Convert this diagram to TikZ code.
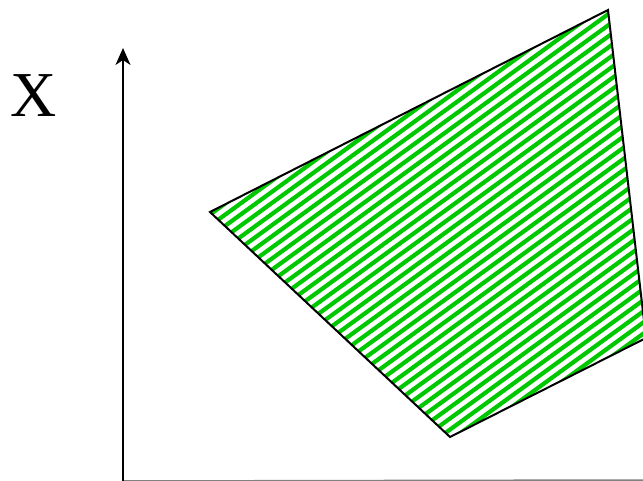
\documentclass[tikz,border=0pt]{standalone}
\usepackage{fontspec}
\setmainfont{Liberation Serif}
\usetikzlibrary{arrows.meta}
\definecolor{hatchgreen}{RGB}{0,200,0}
\tikzset{hatch/.style={hatchgreen,line width=4.2pt}}
\begin{document}
\begin{tikzpicture}[x=1pt,y=-1pt,
every node/.style={inner sep=0pt,font=\fontsize{64}{64}\selectfont}]
\useasboundingbox (0,0) rectangle (643,481);
\coordinate (O) at (123,481);
\coordinate (T) at (123,48);
\coordinate (E) at (643,480);
\coordinate (P1) at (210,212);
\coordinate (P2) at (608,10);
\coordinate (P3) at (646,338);
\coordinate (P4) at (450,437);
\node (X) at (34,96) {X};
\draw[gray,line width=1.5pt] (O)--(E);
\draw[line width=2pt,-{Stealth[length=17pt,width=15pt,inset=5pt]}] (O)--(T);
% stripes
\begin{scope}
\clip (P1)--(P2)--(P3)--(P4)--cycle;
\foreach \k in {30,...,75}
  \draw[hatch] ({\k*9*0.588-800*0.809},{\k*9*0.809+800*0.588})
    -- ({\k*9*0.588+800*0.809},{\k*9*0.809-800*0.588});
\end{scope}
\draw[line width=2pt] (P1)--(P2)--(P3)--(P4)--cycle;
\end{tikzpicture}
\end{document}
